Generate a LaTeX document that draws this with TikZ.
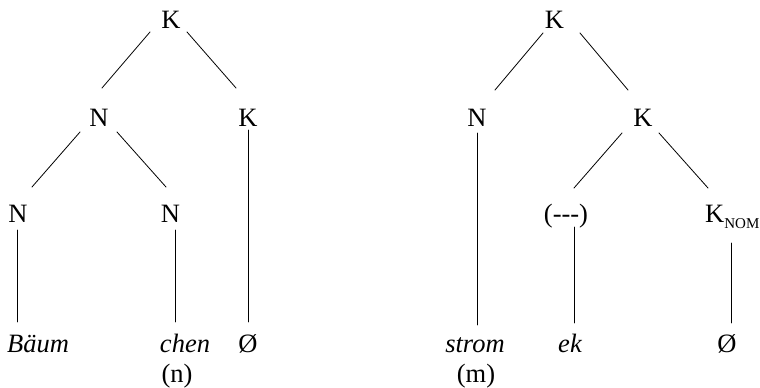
\documentclass[tikz,border=0pt]{standalone}
\usepackage{fontspec}
\setmainfont{Liberation Serif}
\usepackage{tikz}
\usetikzlibrary{positioning}

\begin{document}
\begin{tikzpicture}[x=1pt, y=-1pt, line cap=round,
    font=\fontsize{26.5}{30}\selectfont,
    cat/.style={anchor=base, inner sep=0pt},
    word/.style={anchor=base, inner sep=0pt, font=\fontsize{26.5}{30}\selectfont\itshape},
    branch/.style={line width=0.8pt}]
  \useasboundingbox (0,0) rectangle (760,388);

  % (n): Baeumchen
  \node[cat] (kTop) at (171,28) {K};
  \node[cat] (nMid) at (99,126) {N};
  \node[cat] (kMid) at (248,126) {K};
  \node[cat] (nStem) at (18,222) {N};
  \node[cat] (nSuf) at (170.5,222) {N};
  \node[word] (baeum) at (38,352) {Bäum};
  \node[word] (chen) at (185,352) {chen};
  \node[cat] (nullA) at (248,352) {Ø};
  \node[cat] (labN) at (177,382) {(n)};

  \draw[branch] ([shift={(-21,4)}]kTop.base) -- ([shift={(3,-38)}]nMid.base);
  \draw[branch] ([shift={(16,4)}]kTop.base) -- ([shift={(-12,-38)}]kMid.base);
  \draw[branch] ([shift={(-19,6)}]nMid.base) -- ([shift={(14,-35)}]nStem.base);
  \draw[branch] ([shift={(18,6)}]nMid.base) -- ([shift={(-4.5,-35)}]nSuf.base);
  \draw[branch] ([shift={(-1,8)}]nStem.base) -- ([shift={(-21,-30)}]baeum.base);
  \draw[branch] ([shift={(4.5,8)}]nSuf.base) -- ([shift={(-10,-30)}]chen.base);
  \draw[branch] ([shift={(0,4)}]kMid.base) -- ([shift={(0,-30)}]nullA.base);

  % (m): stromek
  \node[cat] (kTopB) at (554.5,28) {K};
  \node[cat] (nRoot) at (477,126) {N};
  \node[cat] (kMidB) at (643,126) {K};
  \node[cat] (gap) at (566,222) {(-{}-{}-)};
  \node[cat, anchor=base west] (kNom) at (705,222)
    {K\raisebox{-6pt}{\fontsize{15}{15}\selectfont NOM}};
  \node[word] (strom) at (475,352) {strom};
  \node[word] (ek) at (570,352) {ek};
  \node[cat] (nullB) at (727,352) {Ø};
  \node[cat] (labM) at (476,382) {(m)};

  \draw[branch] ([shift={(-11.5,5)}]kTopB.base) -- ([shift={(18,-36)}]nRoot.base);
  \draw[branch] ([shift={(25.5,5)}]kTopB.base) -- ([shift={(-15,-36)}]kMidB.base);
  \draw[branch] ([shift={(-21,7)}]kMidB.base) -- ([shift={(8,-34)}]gap.base);
  \draw[branch] ([shift={(16,7)}]kMidB.base) -- ([shift={(3,-34)}]kNom.base west);
  \draw[branch] ([shift={(0,7)}]nRoot.base) -- ([shift={(2,-27)}]strom.base);
  \draw[branch] ([shift={(8,5)}]gap.base) -- ([shift={(4,-29)}]ek.base);
  \draw[branch] ([shift={(26,21)}]kNom.base west) -- ([shift={(4,-29)}]nullB.base);
\end{tikzpicture}
\end{document}
